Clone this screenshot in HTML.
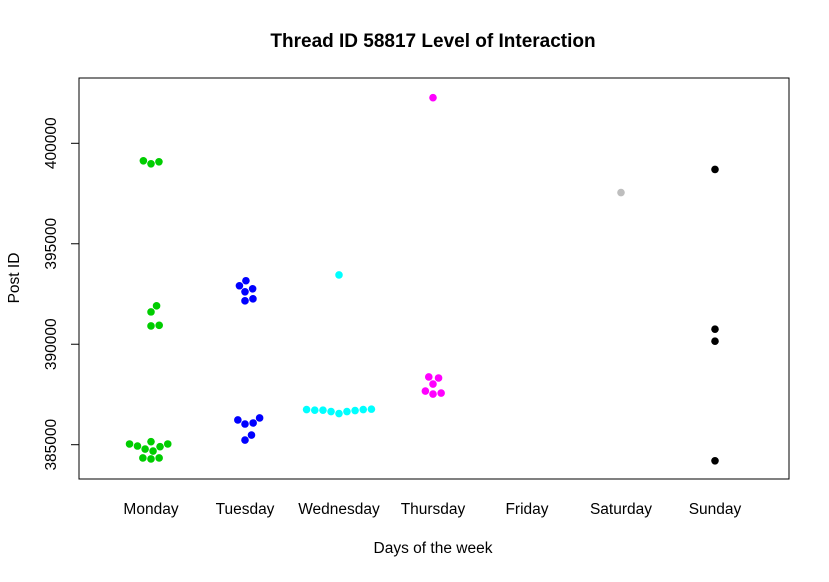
<!DOCTYPE html>
<html><head><meta charset="utf-8"><style>
body{margin:0;background:#fff}
svg text{font-family:"Liberation Sans",Arial,sans-serif;fill:#000}
</style></head><body>
<svg id="chart" width="829" height="577" viewBox="0 0 829 577">
<rect width="829" height="577" fill="#fff"/>
<text x="433" y="47" text-anchor="middle" font-size="19" font-weight="bold">Thread ID 58817 Level of Interaction</text>
<rect x="79" y="78" width="710" height="401" fill="none" stroke="#000" stroke-width="1"/>
<text transform="translate(19,278) rotate(-90)" text-anchor="middle" font-size="15.5">Post ID</text>
<text x="433" y="553" text-anchor="middle" font-size="15.5">Days of the week</text>
<g id="yaxis"></g><g id="xaxis"></g><g id="points"></g>
</svg>
<script>
const days = ["Monday","Tuesday","Wednesday","Thursday","Friday","Saturday","Sunday"];
const colors = ["#00cd00","#0000ff","#00ffff","#ff00ff","#000000","#bebebe","#000000"];
const yTicks = [385000,390000,395000,400000];
const monday = [399130,398980,399080,391910,391610,390910,390940,385035,384935,384785,385150,384685,384900,385035,384340,384290,384340];
const tuesday = [393160,392910,392760,392610,392260,392160,386330,386230,386080,386030,385480,385230];
const wednesday = [393450,386750,386750,386720,386700,386650,386550,386650,386720,386770];
const thursday = [402270,388370,388320,388020,387670,387520,387570];
const friday = [];
const saturday = [397550];
const sunday = [398700,390750,390150,384200];
const series = [monday,tuesday,wednesday,thursday,friday,saturday,sunday];

const NS="http://www.w3.org/2000/svg";
function yScale(v){return 444.7-(v-385000)*(301.4/15000);}
function xScale(i){return 151+i*94;}
function mk(tag,attrs,parent){const e=document.createElementNS(NS,tag);for(const k in attrs)e.setAttribute(k,attrs[k]);parent.appendChild(e);return e;}
const ya=document.getElementById('yaxis');
const yl=mk('line',{x1:79,x2:79,y1:yScale(yTicks[0]),y2:yScale(yTicks[yTicks.length-1]),stroke:'#000'},ya);


yTicks.forEach(t=>{const y=yScale(t);
 const l=mk('line',{x1:71,x2:79,y1:y,y2:y,stroke:'#000'},ya);
 
 
 const tx=mk('text',{transform:`translate(56,${y}) rotate(-90)`,'text-anchor':'middle','font-size':'15.5'},ya);
 tx.textContent=t;
 
 
});
const xa=document.getElementById('xaxis');
days.forEach((d,i)=>{const tx=mk('text',{x:xScale(i),y:514,'text-anchor':'middle','font-size':'15.5'},xa);
 tx.textContent=d;
 
 
});
const pg=document.getElementById('points');
const D=8.2;
series.forEach((vals,i)=>{
 const placed=[];
 const order=vals.map((v,k)=>k).sort((a,b)=>vals[a]-vals[b]);
 order.forEach(k=>{const y=yScale(vals[k]);
  const cands=[0];
  placed.forEach(p=>{const dy=Math.abs(p.y-y);if(dy<D){const dx=Math.sqrt(D*D-dy*dy);cands.push(p.x+dx,p.x-dx);}});
  cands.sort((a,b)=>Math.abs(a)-Math.abs(b));
  let x=0;
  for(const c of cands){if(placed.every(p=>(p.x-c)**2+(p.y-y)**2>=D*D-0.01)){x=c;break;}}
  placed.push({x,y});
  const c=mk('circle',{cx:xScale(i)+x,cy:y,r:3.8,fill:colors[i]},pg);
  
  
 });
});
</script>
</body></html>
